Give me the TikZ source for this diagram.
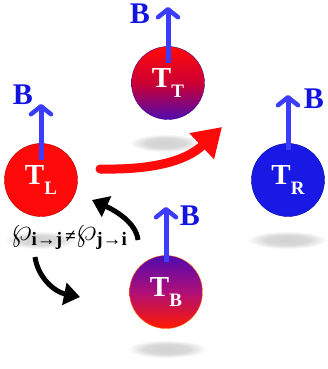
\documentclass[tikz,border=0pt]{standalone}
\usepackage{fontspec}
\setmainfont{Liberation Serif}
\usetikzlibrary{arrows.meta}
\definecolor{cred}{RGB}{255,10,10}
\definecolor{cblue}{RGB}{20,20,225}
\definecolor{cfield}{RGB}{60,60,255}
\definecolor{cdeep}{RGB}{25,25,230}
\definecolor{cpurple}{RGB}{80,10,175}
\definecolor{cmag}{RGB}{175,15,120}
\newcommand{\tsub}[1]{\bfseries T\raisebox{-0.32em}{\fontsize{19}{19}\selectfont #1}}
\newcommand{\bigwp}{\raisebox{2pt}{\scalebox{1.9}{$\wp$}}}
\pgfdeclareradialshading{shadowshade}{\pgfpoint{0bp}{0bp}}{color(0bp)=(black!18); color(14bp)=(black!15); color(25bp)=(white); color(50bp)=(white)}

\begin{document}
\begin{tikzpicture}[x=1pt, y=-1pt]
\tikzset{
  ball/.style={circle, minimum size=73pt, inner sep=0pt, text=white,
    font=\fontsize{29}{29}\selectfont},
  field/.style={cfield, line width=5pt,
    -{Straight Barb[length=8pt,width=20pt,line width=4.5pt,round]}},
  blabel/.style={text=cblue, font=\fontsize{30}{30}\selectfont\bfseries},
  flow/.style={line width=5pt, -{Triangle[length=16pt,width=22pt]}},
  shadow/.style={shading=shadowshade},
}
\useasboundingbox (0,0) rectangle (327,369);

% shadows under the spheres
\shade[shadow] (40,240) ellipse (36 and 9);
\shade[shadow] (165,143) ellipse (36 and 9);
\shade[shadow] (287,240) ellipse (40 and 9);
\shade[shadow] (167,349) ellipse (40 and 9);

% spheres
\node[ball, fill=cred, draw=red!70!black, thin] (TL) at (41,180) {\tsub{L}};
\node[ball, top color=cred, bottom color=cpurple, middle color=red!80!blue,
  draw=cpurple!80!black, thin] (TT) at (168,83) {\tsub{T}};
\node[ball, fill=cdeep, draw=blue!60!black, thin] (TR) at (288,180) {\tsub{R}};
\node[ball, top color=cpurple, bottom color=red!80!orange, middle color=cmag,
  draw=orange!80!red, thin] (TB) at (166,292) {\tsub{B}};

% field arrows
\coordinate (BL) at (41,104);
\coordinate (BT) at (168,7);
\coordinate (BR) at (288,95);
\coordinate (BB) at (166,207);
\draw[field] ([yshift=20pt]TL.center) -- (BL);
\draw[field] ([yshift=20pt]TT.center) -- (BT);
\draw[field] ([yshift=30pt]TR.center) -- (BR);
\draw[field] ([yshift=30pt]TB.center) -- (BB);
\node[blabel] (bl) at (23,95) {B};
\node[blabel] (bt) at (140,14) {B};
\node[blabel] (br) at (314,99) {B};
\node[blabel] (bb) at (190,216) {B};

% transfer
\coordinate (Rs) at (100,169);
\coordinate (Re) at (222,127);
\draw[cred, line width=9pt, line cap=round, -{Triangle[length=28pt,width=34pt]}]
  (Rs) .. controls (150,170) and (185,162) .. (Re);

% nonreciprocity
\node[inner sep=0pt, font=\fontsize{19}{19}\selectfont\bfseries] (wp) at (69,238)
  {\bigwp\raisebox{-3pt}{i→j}\,≠\bigwp\raisebox{-3pt}{j→i}};
\coordinate (Us) at (138,240);
\coordinate (Ue) at (92,200);
\coordinate (Ls) at (35,257);
\coordinate (Le) at (80,297);
\draw[flow] (Us) .. controls (136,222) and (114,210) .. (Ue);
\draw[flow] (Ls) .. controls (38,278) and (55,292) .. (Le);
\end{tikzpicture}
\end{document}
